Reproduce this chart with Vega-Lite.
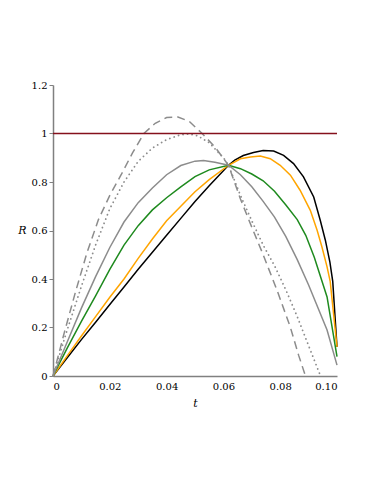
{
  "$schema": "https://vega.github.io/schema/vega-lite/v6.json",
  "width": 284,
  "height": 291,
  "autosize": {"type": "none"},
  "padding": {"left": 53, "top": 85, "right": 37, "bottom": 108},
  "background": "white",
  "config": {
    "view": {"stroke": null},
    "font": "DejaVu Serif",
    "axis": {"grid": false, "labelFont": "DejaVu Serif", "labelFontSize": 10, "labelColor": "#000000", "titleFont": "DejaVu Serif", "titleFontSize": 11, "titleFontStyle": "italic", "titleFontWeight": "normal", "titleColor": "#000000", "domainColor": "#808080", "domainWidth": 1.5, "tickColor": "#808080"}
  },
  "datasets": {
    "curves": [
      {"s": "black", "t": 0, "R": 0}, {"s": "black", "t": 0.005, "R": 0.075}, {"s": "black", "t": 0.01, "R": 0.15}, {"s": "black", "t": 0.015, "R": 0.222}, {"s": "black", "t": 0.02, "R": 0.295}, {"s": "black", "t": 0.025, "R": 0.367}, {"s": "black", "t": 0.03, "R": 0.44}, {"s": "black", "t": 0.035, "R": 0.51}, {"s": "black", "t": 0.04, "R": 0.58}, {"s": "black", "t": 0.045, "R": 0.65}, {"s": "black", "t": 0.05, "R": 0.72}, {"s": "black", "t": 0.055, "R": 0.785}, {"s": "black", "t": 0.0618, "R": 0.869}, {"s": "black", "t": 0.064, "R": 0.89}, {"s": "black", "t": 0.067, "R": 0.909}, {"s": "black", "t": 0.0706, "R": 0.922}, {"s": "black", "t": 0.074, "R": 0.93}, {"s": "black", "t": 0.0777, "R": 0.928}, {"s": "black", "t": 0.0812, "R": 0.91}, {"s": "black", "t": 0.0847, "R": 0.876}, {"s": "black", "t": 0.0882, "R": 0.821}, {"s": "black", "t": 0.0918, "R": 0.738}, {"s": "black", "t": 0.0941, "R": 0.642}, {"s": "black", "t": 0.0959, "R": 0.56}, {"s": "black", "t": 0.0975, "R": 0.47}, {"s": "black", "t": 0.0985, "R": 0.39}, {"s": "black", "t": 0.1, "R": 0.12},
      {"s": "orange", "t": 0, "R": 0}, {"s": "orange", "t": 0.005, "R": 0.083}, {"s": "orange", "t": 0.01, "R": 0.165}, {"s": "orange", "t": 0.015, "R": 0.245}, {"s": "orange", "t": 0.02, "R": 0.325}, {"s": "orange", "t": 0.025, "R": 0.4}, {"s": "orange", "t": 0.03, "R": 0.485}, {"s": "orange", "t": 0.035, "R": 0.565}, {"s": "orange", "t": 0.04, "R": 0.64}, {"s": "orange", "t": 0.045, "R": 0.7}, {"s": "orange", "t": 0.05, "R": 0.76}, {"s": "orange", "t": 0.055, "R": 0.81}, {"s": "orange", "t": 0.0618, "R": 0.869}, {"s": "orange", "t": 0.066, "R": 0.896}, {"s": "orange", "t": 0.0695, "R": 0.903}, {"s": "orange", "t": 0.073, "R": 0.907}, {"s": "orange", "t": 0.0765, "R": 0.896}, {"s": "orange", "t": 0.08, "R": 0.869}, {"s": "orange", "t": 0.0836, "R": 0.828}, {"s": "orange", "t": 0.087, "R": 0.766}, {"s": "orange", "t": 0.0906, "R": 0.683}, {"s": "orange", "t": 0.093, "R": 0.601}, {"s": "orange", "t": 0.0947, "R": 0.532}, {"s": "orange", "t": 0.0965, "R": 0.45}, {"s": "orange", "t": 0.0976, "R": 0.39}, {"s": "orange", "t": 0.1, "R": 0.12},
      {"s": "green", "t": 0, "R": 0}, {"s": "green", "t": 0.005, "R": 0.115}, {"s": "green", "t": 0.01, "R": 0.225}, {"s": "green", "t": 0.015, "R": 0.33}, {"s": "green", "t": 0.02, "R": 0.44}, {"s": "green", "t": 0.025, "R": 0.54}, {"s": "green", "t": 0.03, "R": 0.62}, {"s": "green", "t": 0.035, "R": 0.685}, {"s": "green", "t": 0.04, "R": 0.735}, {"s": "green", "t": 0.045, "R": 0.78}, {"s": "green", "t": 0.05, "R": 0.822}, {"s": "green", "t": 0.055, "R": 0.85}, {"s": "green", "t": 0.0618, "R": 0.869}, {"s": "green", "t": 0.066, "R": 0.855}, {"s": "green", "t": 0.07, "R": 0.833}, {"s": "green", "t": 0.074, "R": 0.805}, {"s": "green", "t": 0.078, "R": 0.762}, {"s": "green", "t": 0.082, "R": 0.705}, {"s": "green", "t": 0.086, "R": 0.645}, {"s": "green", "t": 0.089, "R": 0.58}, {"s": "green", "t": 0.092, "R": 0.49}, {"s": "green", "t": 0.0965, "R": 0.326}, {"s": "green", "t": 0.1, "R": 0.08},
      {"s": "gray", "t": 0, "R": 0}, {"s": "gray", "t": 0.005, "R": 0.14}, {"s": "gray", "t": 0.01, "R": 0.28}, {"s": "gray", "t": 0.015, "R": 0.41}, {"s": "gray", "t": 0.02, "R": 0.53}, {"s": "gray", "t": 0.025, "R": 0.635}, {"s": "gray", "t": 0.03, "R": 0.715}, {"s": "gray", "t": 0.035, "R": 0.775}, {"s": "gray", "t": 0.04, "R": 0.83}, {"s": "gray", "t": 0.045, "R": 0.868}, {"s": "gray", "t": 0.05, "R": 0.886}, {"s": "gray", "t": 0.053, "R": 0.889}, {"s": "gray", "t": 0.057, "R": 0.881}, {"s": "gray", "t": 0.0618, "R": 0.869}, {"s": "gray", "t": 0.066, "R": 0.83}, {"s": "gray", "t": 0.07, "R": 0.78}, {"s": "gray", "t": 0.074, "R": 0.72}, {"s": "gray", "t": 0.078, "R": 0.655}, {"s": "gray", "t": 0.082, "R": 0.575}, {"s": "gray", "t": 0.086, "R": 0.48}, {"s": "gray", "t": 0.09, "R": 0.375}, {"s": "gray", "t": 0.0965, "R": 0.19}, {"s": "gray", "t": 0.1, "R": 0.045},
      {"s": "dotted", "t": 0, "R": 0}, {"s": "dotted", "t": 0.005, "R": 0.19}, {"s": "dotted", "t": 0.01, "R": 0.37}, {"s": "dotted", "t": 0.015, "R": 0.54}, {"s": "dotted", "t": 0.02, "R": 0.69}, {"s": "dotted", "t": 0.025, "R": 0.8}, {"s": "dotted", "t": 0.03, "R": 0.885}, {"s": "dotted", "t": 0.035, "R": 0.94}, {"s": "dotted", "t": 0.04, "R": 0.975}, {"s": "dotted", "t": 0.045, "R": 0.995}, {"s": "dotted", "t": 0.048, "R": 0.998}, {"s": "dotted", "t": 0.051, "R": 0.99}, {"s": "dotted", "t": 0.055, "R": 0.962}, {"s": "dotted", "t": 0.06, "R": 0.9}, {"s": "dotted", "t": 0.0618, "R": 0.869}, {"s": "dotted", "t": 0.066, "R": 0.745}, {"s": "dotted", "t": 0.07, "R": 0.64}, {"s": "dotted", "t": 0.074, "R": 0.54}, {"s": "dotted", "t": 0.078, "R": 0.455}, {"s": "dotted", "t": 0.082, "R": 0.355}, {"s": "dotted", "t": 0.086, "R": 0.245}, {"s": "dotted", "t": 0.09, "R": 0.125}, {"s": "dotted", "t": 0.0942, "R": 0},
      {"s": "dashed", "t": 0, "R": 0}, {"s": "dashed", "t": 0.004, "R": 0.18}, {"s": "dashed", "t": 0.008, "R": 0.35}, {"s": "dashed", "t": 0.012, "R": 0.51}, {"s": "dashed", "t": 0.016, "R": 0.645}, {"s": "dashed", "t": 0.02, "R": 0.745}, {"s": "dashed", "t": 0.024, "R": 0.83}, {"s": "dashed", "t": 0.028, "R": 0.92}, {"s": "dashed", "t": 0.032, "R": 1.0}, {"s": "dashed", "t": 0.036, "R": 1.042}, {"s": "dashed", "t": 0.04, "R": 1.066}, {"s": "dashed", "t": 0.044, "R": 1.068}, {"s": "dashed", "t": 0.048, "R": 1.05}, {"s": "dashed", "t": 0.0525, "R": 1.0}, {"s": "dashed", "t": 0.057, "R": 0.945}, {"s": "dashed", "t": 0.0618, "R": 0.869}, {"s": "dashed", "t": 0.066, "R": 0.73}, {"s": "dashed", "t": 0.0695, "R": 0.628}, {"s": "dashed", "t": 0.074, "R": 0.5}, {"s": "dashed", "t": 0.079, "R": 0.35}, {"s": "dashed", "t": 0.0836, "R": 0.2}, {"s": "dashed", "t": 0.0865, "R": 0.085}, {"s": "dashed", "t": 0.0889, "R": 0},
      {"s": "ref", "t": 0, "R": 1}, {"s": "ref", "t": 0.1, "R": 1}
    ]
  },
  "data": {"name": "curves"},
  "encoding": {
    "x": {"field": "t", "type": "quantitative", "scale": {"domain": [0, 0.1], "nice": false, "zero": false},
      "axis": {"title": "t", "ticks": false, "labelPadding": 5, "values": [0, 0.02, 0.04, 0.06, 0.08, 0.1], "labelExpr": "datum.value == 0 ? '0' : format(datum.value, '.2f')", "titleX": 142, "titleY": 30, "titleBaseline": "alphabetic", "titleAnchor": "middle"}},
    "y": {"field": "R", "type": "quantitative", "scale": {"domain": [0, 1.2], "nice": false},
      "axis": {"title": "R", "titleAngle": 0, "titleX": -31, "titleY": 145, "titleAlign": "center", "titleBaseline": "middle", "tickSize": 4, "labelPadding": 2, "values": [0, 0.2, 0.4, 0.6, 0.8, 1, 1.2], "format": "~g"}}
  },
  "layer": [
    {"transform": [{"filter": "datum.s == 'black'"}], "mark": {"type": "line", "color": "#000000", "strokeWidth": 1.5}},
    {"transform": [{"filter": "datum.s == 'orange'"}], "mark": {"type": "line", "color": "#FFA500", "strokeWidth": 1.5}},
    {"transform": [{"filter": "datum.s == 'green'"}], "mark": {"type": "line", "color": "#1E8A1E", "strokeWidth": 1.5}},
    {"transform": [{"filter": "datum.s == 'gray'"}], "mark": {"type": "line", "color": "#8C8C8C", "strokeWidth": 1.5}},
    {"transform": [{"filter": "datum.s == 'dotted'"}], "mark": {"type": "line", "color": "#8C8C8C", "strokeWidth": 1.8, "strokeCap": "round", "strokeDash": [0.1, 4.5]}},
    {"transform": [{"filter": "datum.s == 'dashed'"}], "mark": {"type": "line", "color": "#8C8C8C", "strokeWidth": 1.5, "strokeDash": [8, 5]}},
    {"transform": [{"filter": "datum.s == 'ref'"}], "mark": {"type": "line", "color": "#85101C", "strokeWidth": 1.5}}
  ]
}
